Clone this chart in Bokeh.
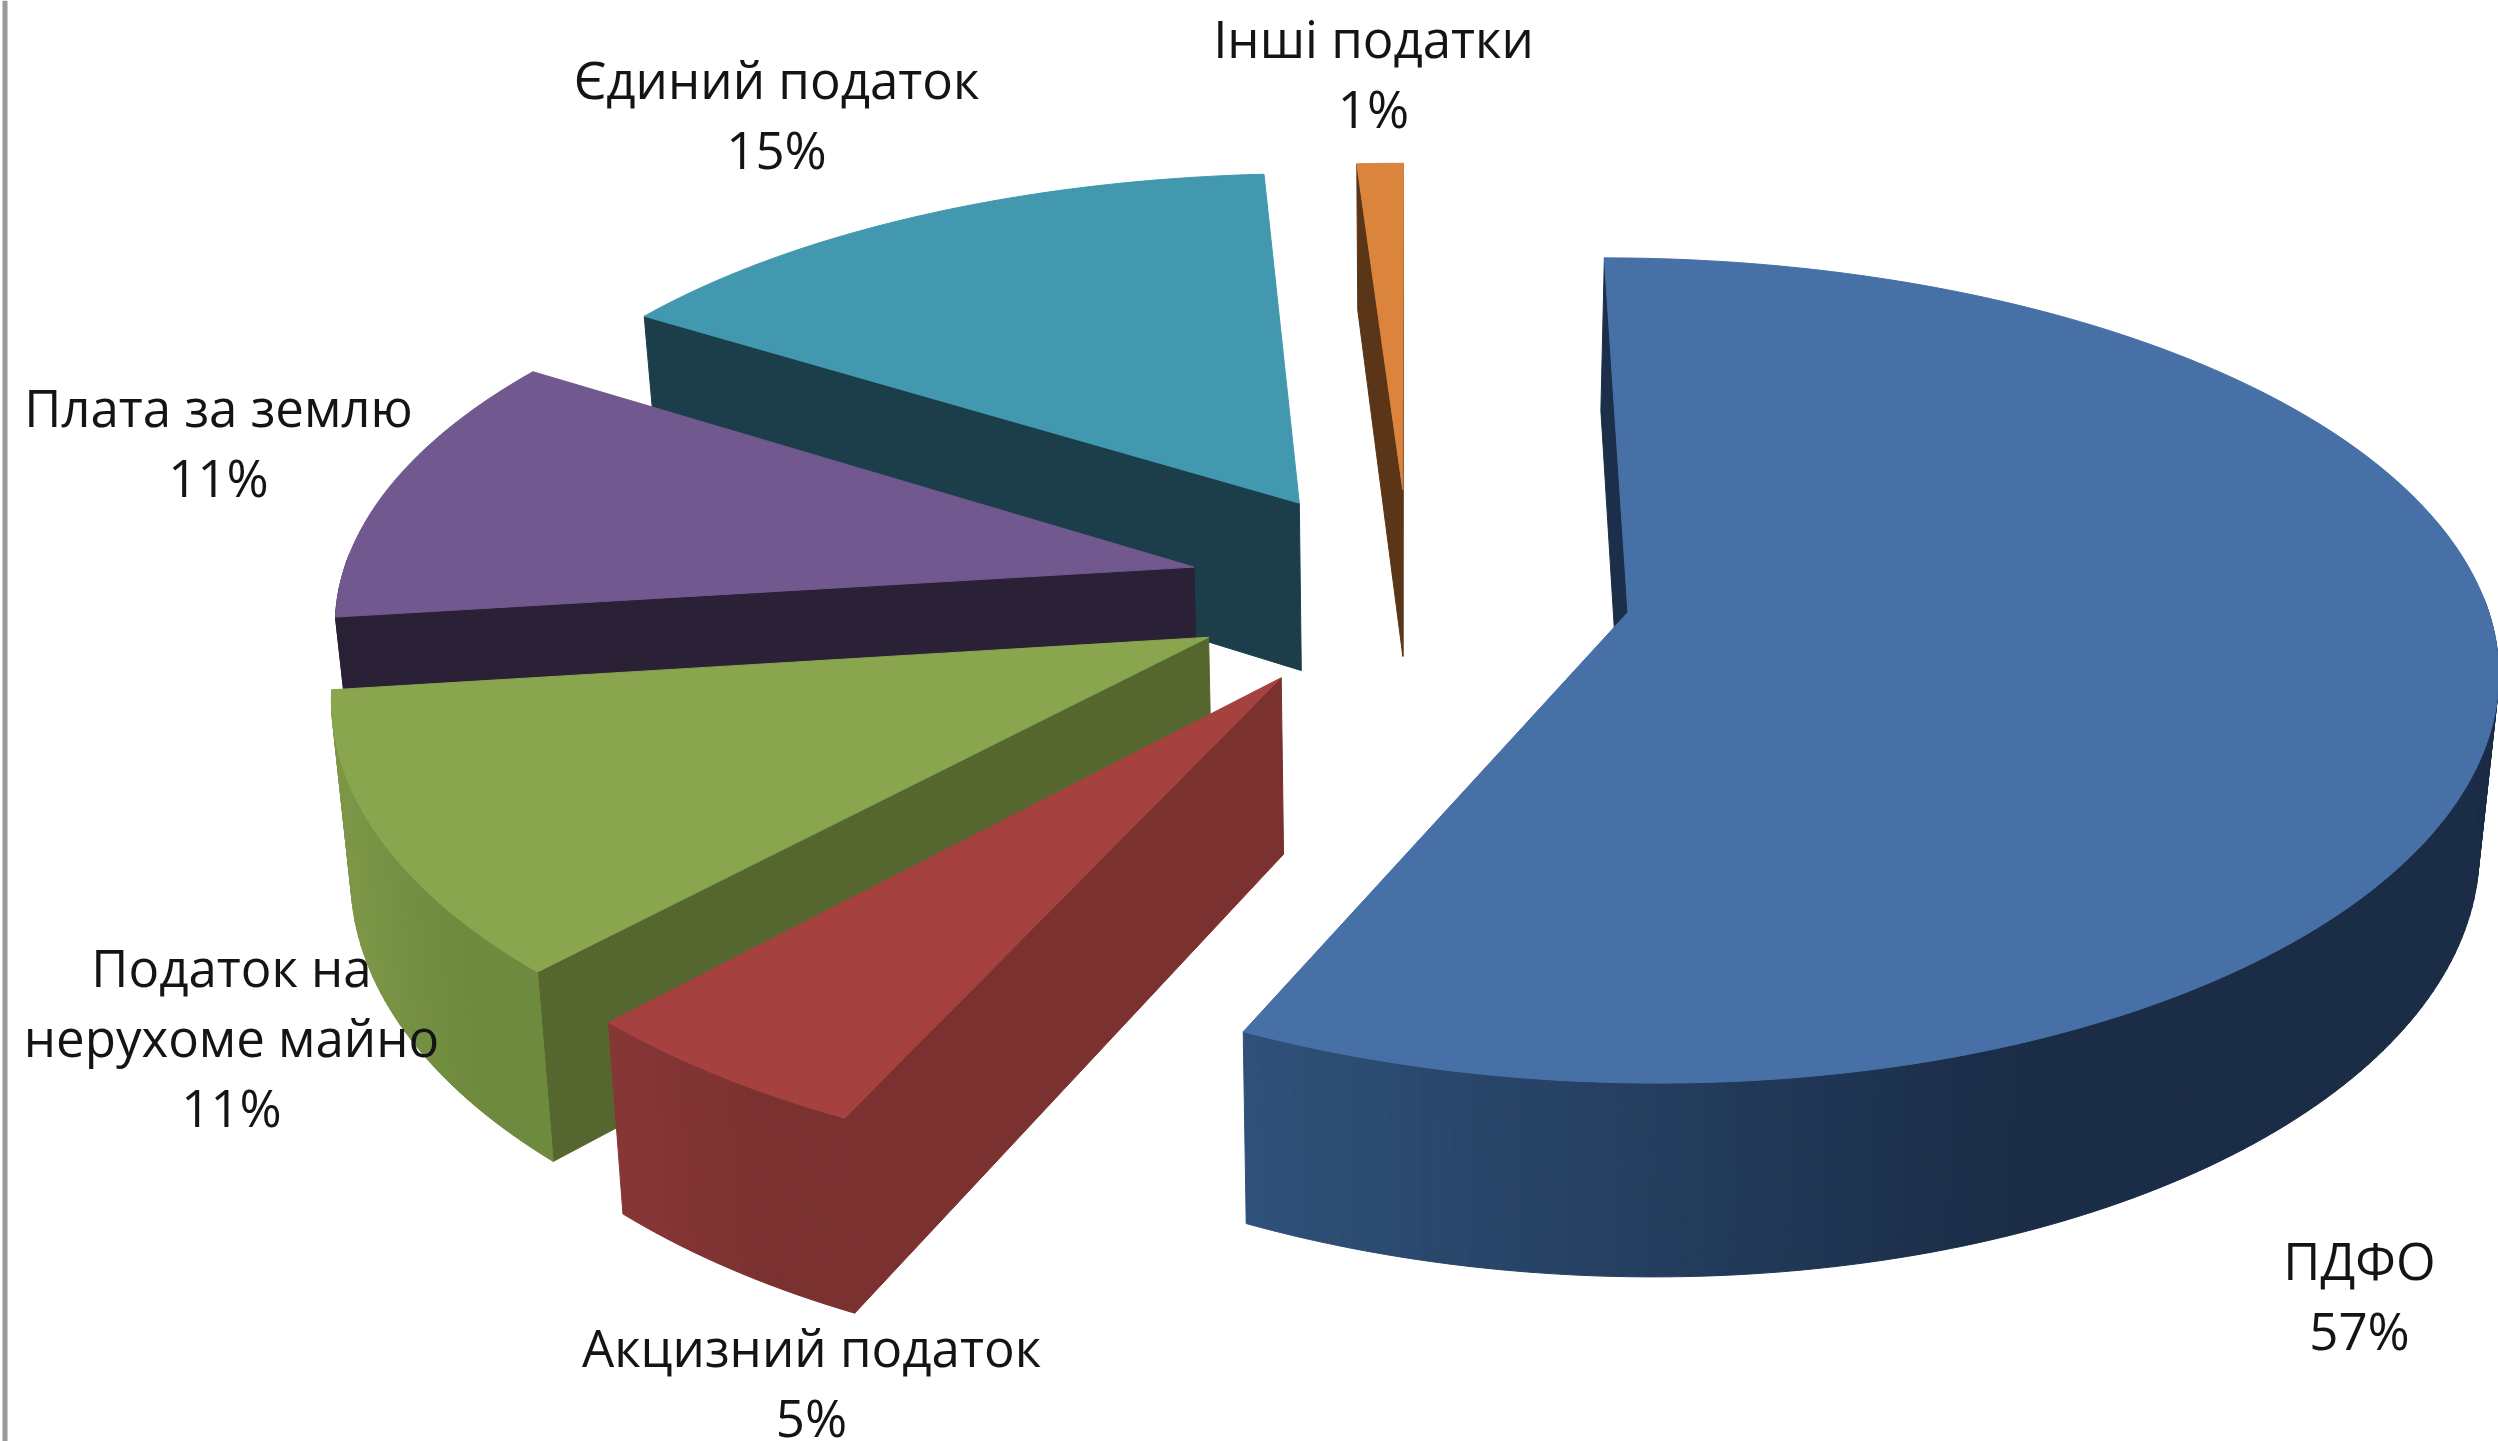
import numpy as np
from bokeh.plotting import figure
from bokeh.models import Range1d, ColumnDataSource
from bokeh.core.properties import value
from bokeh.embed import file_html
from bokeh.resources import INLINE

categories = ["ПДФО", "Акцизний податок", "Податок на\nнерухоме майно", "Плата за землю", "Єдиний податок", "Інші податки"]
shares = [57, 5, 11, 11, 15, 1]

top_colors = ["#4670a6", "#a5423f", "#89a54e", "#71588f", "#4198af", "#db843d"]
radial_colors = ["#1b2f4a", "#7b3130", "#55662f", "#2b2136", "#1b3e4a", "#5a3517"]
rim_left = ["#2f5179", "#873636", "#7d9747", "#2b2136", "#1b3e4a", "#5a3517"]
rim_right = ["#1a2c46", "#7b3130", "#6e8a3e", "#2b2136", "#1b3e4a", "#5a3517"]
draw_order = [5, 4, 3, 2, 1, 0]

label_x = [2359, 811, 231, 218, 776, 1373]
label_y = [1259, 1346, 966, 406, 78, 37]
LINE_H = 70
FONT = "Open Sans"
FONT_SIZE = "51px"

CX, CY, RX, RY = 1409.0, 589.0, 855.0, 398.0
EXPLODE, PERSP_X, PERSP_Y, SINK, DEPTH = 0.26, 0.12, 0.14, 0.018, 172.0


def project(X, Y, lower=False):
    X, Y = np.asarray(X, float), np.asarray(Y, float)
    x = CX + RX * X / (1.0 - PERSP_X * Y)
    y = CY + RY * Y / (1.0 - PERSP_Y * Y)
    if lower:
        x = CX + (x - CX) * (1 - SINK)
        y = y + DEPTH * (1 + 0.12 * Y)
    return x, y


def hex2rgb(h):
    return np.array([int(h[i:i + 2], 16) for i in (1, 3, 5)], float)


def mix(a, b, t):
    c = hex2rgb(a) * (1 - t) + hex2rgb(b) * t
    return "#%02x%02x%02x" % tuple(int(round(v)) for v in c)


edges = np.radians(np.concatenate([[0], np.cumsum(shares)]) * 360.0 / sum(shares))
xs, ys, colors = [], [], []


def add(px, py, col):
    xs.append(list(px))
    ys.append(list(py))
    colors.append(col)


for i in draw_order:
    a, b = edges[i], edges[i + 1]
    mid = (a + b) / 2
    ox, oy = EXPLODE * np.sin(mid), -EXPLODE * np.cos(mid)
    th = np.linspace(a, b, max(3, int(np.degrees(b - a)) + 1))
    ax, ay = ox + np.sin(th), oy - np.cos(th)

    # radial walls that face the viewer
    for edge, normal in ((a, a - np.pi / 2), (b, b + np.pi / 2)):
        if -np.cos(normal) > -0.01:
            ex, ey = [ox, ox + np.sin(edge)], [oy, oy - np.cos(edge)]
            tx, ty = project(ex, ey)
            lx, ly = project(ex, ey, True)
            add([tx[0], tx[1], lx[1], lx[0]], [ty[0], ty[1], ly[1], ly[0]], radial_colors[i])

    # rim, split in strips for the shading
    tx, ty = project(ax, ay)
    lx, ly = project(ax, ay, True)
    lo, hi = tx.min(), tx.max()
    for j in range(len(th) - 1):
        if -np.cos((th[j] + th[j + 1]) / 2) > -0.03:
            t = ((tx[j] + tx[j + 1]) / 2 - lo) / max(hi - lo, 1)
            add([tx[j], tx[j + 1], lx[j + 1], lx[j]], [ty[j], ty[j + 1], ly[j + 1], ly[j]],
                mix(rim_left[i], rim_right[i], min(1, t * 1.6)))

    # top face
    fx, fy = project(np.r_[ox, ax], np.r_[oy, ay])
    add(fx, fy, top_colors[i])

p = figure(width=2498, height=1441, x_range=Range1d(0, 2498), y_range=Range1d(1441, 0),
           output_backend="svg", toolbar_location=None, min_border=0)
p.axis.visible = False
p.grid.visible = False
p.outline_line_color = None
p.background_fill_color = "#ffffff"

p.patches("x", "y", fill_color="c", line_color="c", line_width=1,
          source=ColumnDataSource(dict(x=xs, y=ys, c=colors)))
p.quad(left=[2], right=[7], top=[0], bottom=[1441], fill_color="#9a9a9a", line_color=None)

tx, ty, tt = [], [], []
for name, share, lx0, ly0 in zip(categories, shares, label_x, label_y):
    lines = name.split("\n") + [f"{share}%"]
    for n, line in enumerate(lines):
        tx.append(lx0)
        ty.append(ly0 + n * LINE_H)
        tt.append(line)
p.text(x="x", y="y", text="t", source=ColumnDataSource(dict(x=tx, y=ty, t=tt)),
       text_font=value(FONT), text_font_size=value(FONT_SIZE), text_color="#141414",
       text_align="center", text_baseline="middle")

open("out.html", "w").write(file_html(p, INLINE))
